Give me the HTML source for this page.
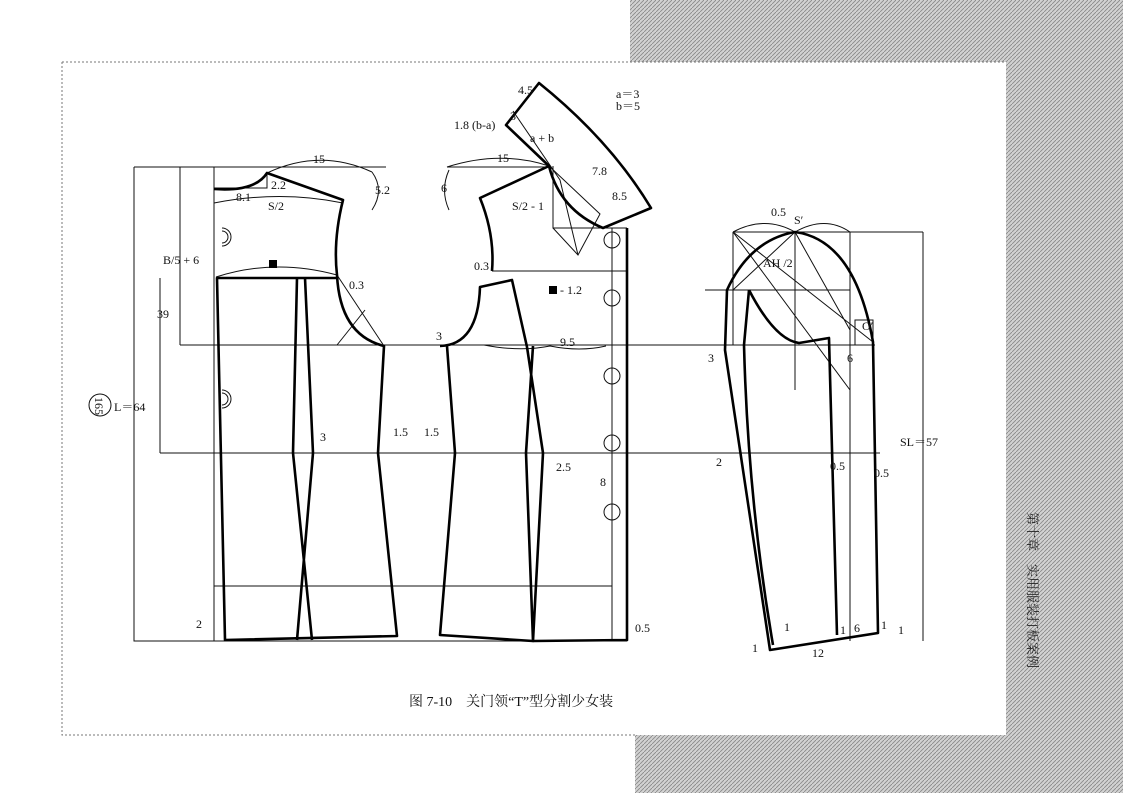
<!DOCTYPE html>
<html><head><meta charset="utf-8"><style>
html,body{margin:0;padding:0;background:#fff}
svg{display:block}
text{font-family:"Liberation Serif","Noto Serif CJK SC",serif;fill:#111}
</style></head><body>
<svg width="1123" height="793" viewBox="0 0 1123 793" xmlns="http://www.w3.org/2000/svg">
<defs>
<pattern id="ht" width="4" height="4" patternUnits="userSpaceOnUse">
<rect width="4" height="4" fill="#d2d2d2"/>
<path d="M0 4L4 0" stroke="#8a8a8a" stroke-width="0.9"/>
</pattern>
</defs>
<rect x="630" y="0" width="493" height="62" fill="url(#ht)"/>
<rect x="1006" y="0" width="117" height="793" fill="url(#ht)"/>
<rect x="635" y="735" width="488" height="58" fill="url(#ht)"/>
<path d="M62 62H1006M62 62V735H635" stroke="#777" stroke-width="1" stroke-dasharray="2 2" fill="none"/>

<g fill="none" stroke="#111" stroke-width="1">
<path d="M134 167H386M134 167V641H214"/>
<path d="M180 345H875M160 453H880M180 167V345M160 278V453"/>
<path d="M214 586H612M214 167V641"/>
<path d="M447 167H549"/>
<path d="M553 166V228H627"/>
<path d="M612 228V641M627 228V641"/>
<path d="M492 271H627"/>
<path d="M733 232H923M705 290H850M733 232V345M850 232V641M923 232V641M795 232V390"/>
<path d="M214 641H627"/>
<path d="M267 173Q320 148 372 172"/>
<path d="M447 167Q500 150 549 166"/>
<path d="M372 172Q385 190 372 210"/>
<path d="M449 170Q440 190 449 210"/>
<path d="M214 203Q280 190 343 203"/>
<path d="M216 277Q275 258 337 275"/>
<path d="M733 232Q765 215 795 232Q825 215 850 232"/>
<path d="M549 166L600 214L578 255L553 228"/>
<path d="M513 111L560 180L578 255"/>
<path d="M337 275L384 346M337 345L365 310"/>
<path d="M733 232L873 342M795 232L733 290M795 232L850 330M733 232L850 390"/>
<path d="M873 342V320H855V345"/>
<path d="M267 173V188H214"/>
<path d="M484 345Q520 352 550 346Q580 352 606 346"/>
</g>
<g fill="none" stroke="#000" stroke-width="2.6" stroke-linejoin="round">
<path d="M214 189Q255 192 267 173L343 200Q333 240 337 275Q340 335 384 346L378 453L397 636L225 640L217 278H337"/>
<path d="M297 278L293 453L312 640M305 278L313 453L297 640"/>
<path d="M549 166L480 198Q495 235 492 271"/>
<path d="M440 346Q478 345 480 287L512 280L527 347L543 453L533 641L526 453L533 346"/>
<path d="M447 346L455 453L440 635L533 641L627 640V228"/>
<path d="M539 83Q610 140 651 208L603 228Q560 210 549 166L506 125Z"/>
<path d="M727 290Q750 240 795 232Q855 240 873 342L878 633L770 650L725 350Z"/>
<path d="M749 290L744 345Q748 500 773 645M749 290Q775 340 799 343L829 338L837 635"/>
</g>
<g fill="none" stroke="#111" stroke-width="1">
<circle cx="612" cy="240" r="8"/><circle cx="612" cy="298" r="8"/><circle cx="612" cy="376" r="8"/><circle cx="612" cy="443" r="8"/><circle cx="612" cy="512" r="8"/>
<path d="M222 228a9 9 0 0 1 0 18M222 231a6 6 0 0 1 0 12M222 390a9 9 0 0 1 0 18M222 393a6 6 0 0 1 0 12"/>
<circle cx="100" cy="405" r="11"/>
</g>
<rect x="269" y="260" width="8" height="8" fill="#000"/>
<rect x="549" y="286" width="8" height="8" fill="#000"/>
<g font-size="12">
<text x="313" y="163">15</text><text x="497" y="162">15</text>
<text x="271" y="189">2.2</text><text x="236" y="201">8.1</text><text x="268" y="210">S/2</text>
<text x="375" y="194">5.2</text><text x="441" y="192">6</text><text x="512" y="210">S/2 - 1</text>
<text x="163" y="264">B/5 + 6</text><text x="349" y="289">0.3</text><text x="474" y="270">0.3</text>
<text x="560" y="294">- 1.2</text><text x="560" y="346">9.5</text><text x="436" y="340">3</text>
<text x="157" y="318">39</text><text x="114" y="411">L＝64</text>
<text x="320" y="441">3</text><text x="393" y="436">1.5</text><text x="424" y="436">1.5</text><text x="556" y="471">2.5</text>
<text x="600" y="486">8</text><text x="196" y="628">2</text><text x="635" y="632">0.5</text>
<text x="518" y="94">4.5</text><text x="454" y="129">1.8 (b-a)</text><text x="510" y="120">3</text>
<text x="530" y="142">a + b</text><text x="592" y="175">7.8</text><text x="612" y="200">8.5</text>
<text x="616" y="98">a＝3</text><text x="616" y="110">b＝5</text>
<text x="771" y="216">0.5</text><text x="794" y="224">S′</text><text x="763" y="267">AH /2</text>
<text x="862" y="330">O′</text><text x="708" y="362">3</text><text x="847" y="362">6</text>
<text x="900" y="446">SL＝57</text><text x="716" y="466">2</text><text x="830" y="470">0.5</text><text x="874" y="477">0.5</text>
<text x="784" y="631">1</text><text x="752" y="652">1</text><text x="840" y="634">1</text><text x="854" y="632">6</text>
<text x="881" y="629">1</text><text x="898" y="634">1</text><text x="812" y="657">12</text>
</g>
<text x="409" y="706" font-size="14">图 7-10　关门领“T”型分割少女装</text>
<text x="0" y="0" font-size="12" transform="translate(95,397) rotate(90)">165</text>
<text x="0" y="0" font-size="13" transform="translate(1028,512) rotate(90)" style="fill:#222">第十章　实用服装打板案例</text>
</svg>
</body></html>
